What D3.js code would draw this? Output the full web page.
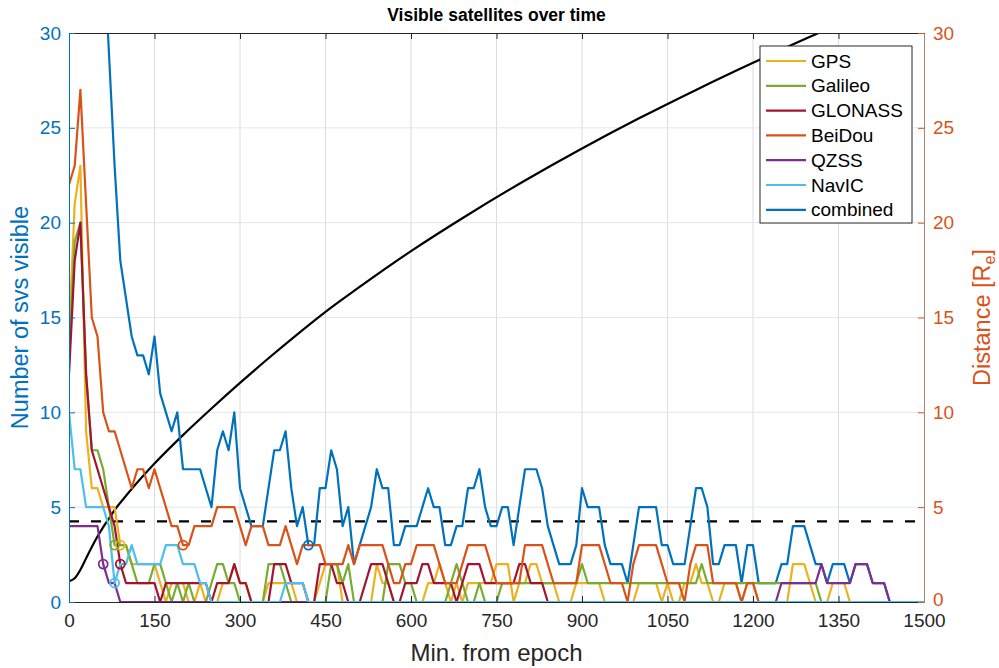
<!DOCTYPE html>
<html>
<head>
<meta charset="utf-8">
<script src="https://cdn.jsdelivr.net/npm/d3@7"></script>
<style>
  body { margin: 0; background: #fff; }
  svg { display: block; font-family: "Liberation Sans", Arial, Helvetica, sans-serif; }
</style>
</head>
<body>
<svg id="chart" width="999" height="668"></svg>
<script>
// Visible satellite counts, one sample every 10 minutes from epoch (0 ... 1500 min)
const sampleStepMin = 10;

const gps = [
  14,21,23,9,6,6,5,5,5,3,
  3,2,2,2,2,2,1,0,1,1,
  1,0,0,1,0,0,0,1,1,2,
  1,1,0,0,0,1,1,1,1,1,
  0,0,0,0,1,2,2,2,0,0,
  0,0,0,0,2,1,1,0,0,0,
  0,0,0,1,1,2,1,0,1,0,
  1,1,1,1,1,2,2,2,0,1,
  1,2,2,1,1,1,0,0,0,1,
  1,1,1,1,0,0,0,0,0,0,
  1,1,1,1,0,1,0,0,1,1,
  2,1,1,0,0,1,1,1,0,1,
  1,0,0,0,0,0,0,2,2,2,
  1,0,0,0,1,1,1,0,0,0,
  0,0,0,0,0,0,0,0,0,0,
  0
];
const galileo = [
  13,19,20,12,8,8,7,5,3,3,
  3,2,1,1,1,2,2,1,0,1,
  0,1,0,0,0,1,2,2,1,1,
  0,0,0,0,0,2,2,2,1,0,
  0,0,0,0,0,0,2,2,1,2,
  0,0,0,0,0,0,2,2,2,1,
  1,0,0,0,0,0,0,1,2,1,
  0,0,1,0,0,0,1,1,1,1,
  1,1,1,1,1,1,1,1,1,1,
  2,1,1,1,1,1,1,1,1,1,
  1,1,1,1,1,1,1,1,1,1,
  1,2,1,1,1,1,1,1,1,1,
  1,1,1,1,1,1,1,1,1,1,
  1,1,0,0,0,0,0,0,0,0,
  0,0,0,0,0,0,0,0,0,0,
  0
];
const glonass = [
  12,18,20,12,8,7,6,5,4,2,
  1,1,1,1,1,1,0,1,1,1,
  1,1,1,1,1,0,1,1,1,2,
  1,1,0,0,0,0,2,2,2,1,
  1,1,0,0,2,2,2,1,1,0,
  0,0,1,2,2,2,1,0,0,1,
  1,1,2,2,1,1,1,1,0,1,
  2,2,2,1,1,1,1,1,1,2,
  2,1,1,1,0,0,0,0,0,0,
  0,0,0,0,0,0,0,0,0,0,
  0,0,0,0,0,0,0,0,0,0,
  0,0,0,0,0,0,0,0,0,0,
  0,0,0,0,0,0,0,0,0,0,
  0,0,0,0,0,0,0,0,0,0,
  0,0,0,0,0,0,0,0,0,0,
  0
];
const beidou = [
  22,23,27,21,15,14,10,9,9,8,
  7,6,7,7,6,7,6,5,4,4,
  3,3,4,4,4,4,5,5,5,5,
  4,3,4,4,4,3,3,3,4,3,
  2,3,3,3,3,2,2,2,2,3,
  2,3,3,3,3,3,2,1,1,2,
  2,3,3,3,3,2,1,1,1,2,
  3,3,3,3,2,1,1,1,1,1,
  3,3,3,3,2,1,1,1,1,1,
  3,3,3,3,2,1,1,1,0,2,
  3,3,3,3,2,1,1,1,0,2,
  3,3,3,1,1,1,1,1,0,1,
  1,0,0,0,0,0,0,0,0,0,
  0,0,0,0,0,0,0,0,0,0,
  0,0,0,0,0,0,0,0,0,0,
  0
];
const qzss = [
  4,4,4,4,4,4,2,1,1,0,
  0,0,0,0,0,0,0,0,0,0,
  0,0,0,0,0,0,0,0,0,0,
  0,0,0,0,0,0,0,0,0,0,
  0,0,0,0,0,0,0,0,0,0,
  0,0,0,0,0,0,0,0,0,0,
  0,0,0,0,0,0,0,0,0,0,
  0,0,0,0,0,0,0,0,0,0,
  0,0,0,0,0,0,0,0,0,0,
  0,0,0,0,0,0,0,0,0,0,
  0,0,0,0,0,0,0,0,0,0,
  0,0,0,0,0,0,0,0,0,0,
  0,0,0,0,0,1,1,1,1,1,
  1,1,2,1,1,1,1,1,2,2,
  2,1,1,1,0,0,0,0,0,0,
  0
];
const navic = [
  10,7,7,5,5,5,5,4,1,2,
  2,3,2,2,2,2,2,3,3,3,
  2,2,2,1,1,0,0,0,0,0,
  0,0,0,0,0,0,0,0,1,1,
  1,1,0,0,0,0,0,0,0,0,
  0,0,0,0,0,0,0,0,0,0,
  0,0,0,0,0,0,0,0,0,0,
  0,0,0,0,0,0,0,0,0,0,
  0,0,0,0,0,0,0,0,0,0,
  0,0,0,0,0,0,0,0,0,0,
  0,0,0,0,0,0,0,0,0,0,
  0,0,0,0,0,0,0,0,0,0,
  0,0,0,0,0,0,0,0,0,0,
  0,0,0,0,0,0,0,0,0,0,
  0,0,0,0,0,0,0,0,0,0,
  0
];
const combined = [
  75,92,101,63,46,44,35,29,23,18,
  16,14,13,13,12,14,11,10,9,10,
  7,7,7,7,6,5,8,9,8,10,
  6,5,4,4,4,6,8,8,9,6,
  4,5,3,3,6,6,8,7,4,5,
  2,3,4,5,7,6,6,3,3,4,
  4,4,5,6,5,5,3,3,4,4,
  6,6,7,5,4,4,5,5,3,5,
  7,7,7,6,4,3,2,2,2,3,
  6,5,5,5,3,2,2,2,1,3,
  5,5,5,5,3,3,2,2,2,4,
  6,6,5,2,2,3,3,3,1,3,
  3,1,1,1,1,2,2,4,4,4,
  3,2,2,1,2,2,2,1,2,2,
  2,1,1,1,0,0,0,0,0,0,
  0
];

// Distance from Earth's centre [Earth radii]
const distMinutes = [0,10,20,30,40,50,60,70,80,100,150,200,250,300,350,400,450,500,600,700,800,900,1000,1100,1200,1300,1400];
const distRe      = [1.1,1.25,1.7,2.3,2.9,3.45,3.95,4.4,4.85,5.6,7.3,8.8,10.2,11.55,12.85,14.1,15.3,16.4,18.5,20.42,22.22,23.91,25.5,27.0,28.43,29.8,31.1];
const gpsOrbitRe = 4.25;

const xTicks = [0,150,300,450,600,750,900,1050,1200,1350,1500];
const yTicks = [0,5,10,15,20,25,30];

const seriesNames  = ["GPS","Galileo","GLONASS","BeiDou","QZSS","NavIC","combined"];
const seriesColors = ["#EDB120","#77AC30","#A2142F","#D95319","#7E2F8E","#4DBEEE","#0072BD"];
const seriesData   = [gps, galileo, glonass, beidou, qzss, navic, combined];

const svg = d3.select("#chart");
const pL = 69, pR = 924, pT = 33, pB = 602;

const x = d3.scaleLinear().domain([0,1500]).range([pL,pR]);
const yL = d3.scaleLinear().domain([0,30]).range([pB,pT]);
const yR = d3.scaleLinear().domain([0,30]).range([pB,pT]);

const leftColor = "#0072BD", rightColor = "#D95319", axisGray = "#262626";

svg.append("defs").append("clipPath").attr("id","plotClip")
  .append("rect").attr("x",pL).attr("y",pT).attr("width",pR-pL).attr("height",pB-pT);

// grid
const grid = svg.append("g");
grid.selectAll("line.vg").data(xTicks.slice(1,-1)).join("line")
  .attr("x1",d=>x(d)).attr("x2",d=>x(d)).attr("y1",pT).attr("y2",pB)
  .attr("stroke","#dcdcdc").attr("stroke-width",1);
grid.selectAll("line.hg").data(yTicks.slice(1,-1)).join("line")
  .attr("x1",pL).attr("x2",pR).attr("y1",d=>yL(d)).attr("y2",d=>yL(d))
  .attr("stroke","#dfe7ef").attr("stroke-width",1);

const plot = svg.append("g").attr("clip-path","url(#plotClip)");

// distance curve (right axis)
const distLine = d3.line().x((d,i)=>x(distMinutes[i])).y(d=>yR(d)).curve(d3.curveMonotoneX);
plot.append("path").datum(distRe).attr("d",distLine)
  .attr("fill","none").attr("stroke","#000").attr("stroke-width",2.2);

// GPS orbit reference
plot.append("line").attr("x1",x(0)).attr("x2",x(1500))
  .attr("y1",yR(gpsOrbitRe)).attr("y2",yR(gpsOrbitRe))
  .attr("stroke","#000").attr("stroke-width",2.2).attr("stroke-dasharray","10,12");

const countLine = d3.line().x((d,i)=>x(i*sampleStepMin)).y(d=>yL(d));

// combined drawn underneath the individual constellations
const drawOrder = [6,0,1,2,3,4,5];
drawOrder.forEach(k=>{
  plot.append("path").datum(seriesData[k]).attr("d",countLine)
    .attr("fill","none").attr("stroke",seriesColors[k]).attr("stroke-width",2.2)
    .attr("stroke-linejoin","round");
});
// mark first sample with fewer than 4 satellites
drawOrder.forEach(k=>{
  const arr = seriesData[k];
  const i = arr.findIndex(v=>v<4);
  if (i>=0) {
    plot.append("circle").attr("cx",x(i*sampleStepMin)).attr("cy",yL(arr[i])).attr("r",4.5)
      .attr("fill","none").attr("stroke",seriesColors[k]).attr("stroke-width",1.8);
  }
});

// axes
const fs = 19;
const xAxis = svg.append("g").attr("transform",`translate(0,${pB})`)
  .call(d3.axisBottom(x).tickValues(xTicks).tickFormat(d3.format("d"))
    .tickSizeInner(-6).tickSizeOuter(0).tickPadding(12));
xAxis.select(".domain").attr("stroke",axisGray);
xAxis.selectAll(".tick line").attr("stroke",axisGray);
xAxis.selectAll("text").attr("fill",axisGray).style("font-size",fs+"px");

const xTop = svg.append("g").attr("transform",`translate(0,${pT})`)
  .call(d3.axisTop(x).tickValues(xTicks).tickSizeInner(-6).tickSizeOuter(0).tickFormat(""));
xTop.select(".domain").attr("stroke",axisGray);
xTop.selectAll(".tick line").attr("stroke",axisGray);

const yAxisL = svg.append("g").attr("transform",`translate(${pL},0)`)
  .call(d3.axisLeft(yL).tickValues(yTicks).tickSizeInner(-6).tickSizeOuter(0).tickPadding(8));
yAxisL.select(".domain").attr("stroke",leftColor);
yAxisL.selectAll(".tick line").attr("stroke",leftColor);
yAxisL.selectAll("text").attr("fill",leftColor).style("font-size",fs+"px");

const yAxisR = svg.append("g").attr("transform",`translate(${pR},0)`)
  .call(d3.axisRight(yR).tickValues(yTicks).tickSizeInner(-6).tickSizeOuter(0).tickPadding(9));
yAxisR.select(".domain").attr("stroke","#b8826f");
yAxisR.selectAll(".tick line").attr("stroke",rightColor);
yAxisR.selectAll("text").attr("fill",rightColor).style("font-size",fs+"px")
  .attr("dy", d => d === 0 ? "0.2em" : "0.32em");

// labels
svg.append("text").attr("x",(pL+pR)/2).attr("y",21).attr("text-anchor","middle")
  .style("font-size","17.5px").style("font-weight","bold").attr("fill","#000")
  .text("Visible satellites over time");
svg.append("text").attr("x",(pL+pR)/2).attr("y",661).attr("text-anchor","middle")
  .style("font-size","24px").attr("fill",axisGray).text("Min. from epoch");
svg.append("text").attr("transform",`translate(28,${(pT+pB)/2}) rotate(-90)`)
  .attr("text-anchor","middle").style("font-size","23.5px").attr("fill",leftColor)
  .text("Number of svs visible");
const rl = svg.append("text").attr("transform",`translate(990,${(pT+pB)/2}) rotate(-90)`)
  .attr("text-anchor","middle").style("font-size","23.5px").attr("fill",rightColor);
rl.append("tspan").text("Distance [R");
rl.append("tspan").attr("dy",5).style("font-size","16px").text("e");
rl.append("tspan").attr("dy",-5).text("]");

// legend
const lg = svg.append("g");
lg.append("rect").attr("x",760).attr("y",46).attr("width",152).attr("height",177)
  .attr("fill","#fff").attr("stroke","#262626").attr("stroke-width",1);
seriesNames.forEach((n,i)=>{
  const yy = 61 + i*24.8;
  lg.append("line").attr("x1",766).attr("x2",806).attr("y1",yy).attr("y2",yy)
    .attr("stroke",seriesColors[i]).attr("stroke-width",2.2);
  lg.append("text").attr("x",811).attr("y",yy+6.5).style("font-size","19px").attr("fill","#000").text(n);
});
</script>
</body>
</html>
